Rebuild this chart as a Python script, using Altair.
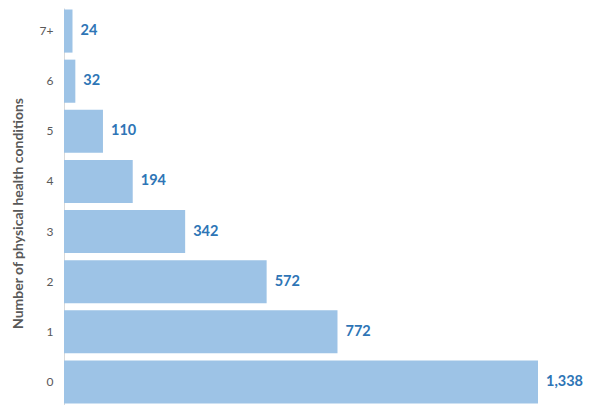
import altair as alt
import pandas as pd

categories = ["0", "1", "2", "3", "4", "5", "6", "7+"]
counts = [1338, 772, 572, 342, 194, 110, 32, 24]

df = pd.DataFrame({"cond": categories, "n": counts})
order = list(reversed(categories))

y_enc = alt.Y(
    "cond:N",
    sort=order,
    scale=alt.Scale(paddingInner=0.14, paddingOuter=0.03),
    axis=alt.Axis(
        title="Number of physical health conditions",
        titleFont="Lato",
        titleFontSize=14,
        titleFontWeight="bold",
        titleColor="#595959",
        titleX=-46,
        titleY=205,
        titleBaseline="middle",
        titleAngle=-90,
        labelFont="Lato",
        labelFontSize=12,
        labelColor="#595959",
        labelPadding=11,
        ticks=False,
        tickSize=0,
        domainColor="#d9d9d9",
        domainWidth=1,
        grid=False,
    ),
)
x_enc = alt.X("n:Q", scale=alt.Scale(domain=[0, 1338], nice=False), axis=None)

bars = alt.Chart(df).mark_bar(color="#9DC3E6").encode(x=x_enc, y=y_enc)
labels = alt.Chart(df).mark_text(
    align="left", baseline="middle", dx=8, font="Lato", fontSize=14.5,
    fontWeight="bold", color="#2E75B6"
).encode(x=x_enc, y=y_enc, text=alt.Text("n:Q", format=","))

chart = (bars + labels).properties(
    width=474, height=397,
    autosize=alt.AutoSizeParams(type="none"),
    padding={"left": 56, "top": 0, "right": 46, "bottom": 0},
).configure_view(stroke=None)

chart.save("out.html", embed_options={"renderer": "svg", "actions": False})
